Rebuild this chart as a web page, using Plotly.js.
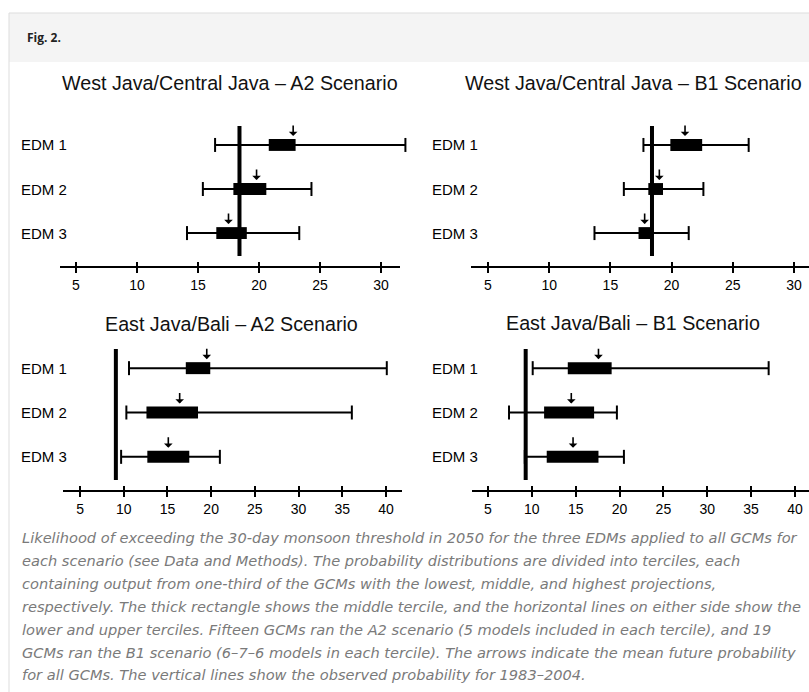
<!DOCTYPE html>
<html>
<head>
<meta charset="utf-8">
<script src="https://cdn.plot.ly/plotly-3.0.1.min.js"></script>
<style>
html,body{margin:0;padding:0;background:#fff;}
#chart{width:809px;height:692px;}
</style>
</head>
<body>
<div id="chart"></div>
<script>
// ---------- DATA ----------
const edmLabels = ['EDM 1', 'EDM 2', 'EDM 3'];
const panelTitles = [
  'West Java/Central Java – A2 Scenario',
  'West Java/Central Java – B1 Scenario',
  'East Java/Bali – A2 Scenario',
  'East Java/Bali – B1 Scenario'
];
const topTicks = [5, 10, 15, 20, 25, 30];
const bottomTicks = [5, 10, 15, 20, 25, 30, 35, 40];

// West Java/Central Java – A2
const wjA2Low   = [16.4, 15.4, 14.1];
const wjA2Q1    = [20.8, 17.9, 16.5];
const wjA2Q2    = [23.0, 20.6, 19.0];
const wjA2High  = [32.0, 24.3, 23.3];
const wjA2Mean  = [22.8, 19.8, 17.5];
const wjA2Obs   = 18.4;
// West Java/Central Java – B1
const wjB1Low   = [17.7, 16.1, 13.7];
const wjB1Q1    = [19.9, 18.1, 17.3];
const wjB1Q2    = [22.5, 19.3, 18.3];
const wjB1High  = [26.3, 22.6, 21.4];
const wjB1Mean  = [21.1, 19.0, 17.8];
const wjB1Obs   = 18.4;
// East Java/Bali – A2
const ejA2Low   = [10.6, 10.3, 9.7];
const ejA2Q1    = [17.1, 12.6, 12.7];
const ejA2Q2    = [19.9, 18.5, 17.5];
const ejA2High  = [40.1, 36.1, 21.0];
const ejA2Mean  = [19.5, 16.4, 15.1];
const ejA2Obs   = 9.1;
// East Java/Bali – B1
const ejB1Low   = [10.1, 7.4, 9.2];
const ejB1Q1    = [14.1, 11.4, 11.7];
const ejB1Q2    = [19.1, 17.1, 17.6];
const ejB1High  = [37.0, 19.7, 20.5];
const ejB1Mean  = [17.6, 14.5, 14.7];
const ejB1Obs   = 9.3;

const figLabel = 'Fig. 2.';
const captionLines = [
  'Likelihood of exceeding the 30-day monsoon threshold in 2050 for the three EDMs applied to all GCMs for',
  'each scenario (see Data and Methods). The probability distributions are divided into terciles, each',
  'containing output from one-third of the GCMs with the lowest, middle, and highest projections,',
  'respectively. The thick rectangle shows the middle tercile, and the horizontal lines on either side show the',
  'lower and upper terciles. Fifteen GCMs ran the A2 scenario (5 models included in each tercile), and 19',
  'GCMs ran the B1 scenario (6–7–6 models in each tercile). The arrows indicate the mean future probability',
  'for all GCMs. The vertical lines show the observed probability for 1983–2004.'
];

// ---------- BUILD ----------
const panelData = [
  {low: wjA2Low, q1: wjA2Q1, q2: wjA2Q2, high: wjA2High, mean: wjA2Mean, obs: wjA2Obs, ticks: topTicks},
  {low: wjB1Low, q1: wjB1Q1, q2: wjB1Q2, high: wjB1High, mean: wjB1Mean, obs: wjB1Obs, ticks: topTicks},
  {low: ejA2Low, q1: ejA2Q1, q2: ejA2Q2, high: ejA2High, mean: ejA2Mean, obs: ejA2Obs, ticks: bottomTicks},
  {low: ejB1Low, q1: ejB1Q1, q2: ejB1Q2, high: ejB1High, mean: ejB1Mean, obs: ejB1Obs, ticks: bottomTicks}
];

const W = 809, H = 692;
const px = v => v / W;
const py = v => 1 - v / H;

// layout geometry (pixels)
const geom = [
  {xd: [60, 412],  ax: [60, 400],  yd: [115, 267], xr: [3.69, 32.54], tx: 230, ty: 83,  lx: 19},
  {xd: [471, 809], ax: [471, 809], yd: [115, 267], xr: [3.61, 31.23], tx: 633, ty: 83,  lx: 430},
  {xd: [63, 402],  ax: [63, 402],  yd: [338, 491], xr: [3.05, 41.84], tx: 231, ty: 324, lx: 19},
  {xd: [472, 809], ax: [472, 809], yd: [338, 491], xr: [3.18, 41.60], tx: 633, ty: 323, lx: 430}
];
const yRange = [0.23, 3.68];
const boxWidth = 0.27;
const obsSpan = [0.48, 3.43];
const FONT = 'Liberation Sans, Arial, Helvetica, sans-serif';

const traces = [];
const annotations = [];
const shapes = [
  {type: 'rect', xref: 'paper', yref: 'paper', x0: px(9), x1: 1, y0: py(62), y1: py(13),
   fillcolor: '#f4f4f4', line: {width: 0}, layer: 'below'},
  {type: 'line', xref: 'paper', yref: 'paper', x0: px(9), x1: 1, y0: py(13), y1: py(13),
   line: {color: '#dddddd', width: 1}},
  {type: 'line', xref: 'paper', yref: 'paper', x0: px(9), x1: px(9), y0: py(13), y1: 0,
   line: {color: '#dddddd', width: 1}}
];
const layout = {
  width: W, height: H,
  margin: {l: 0, r: 0, t: 0, b: 0, pad: 0},
  paper_bgcolor: '#ffffff',
  plot_bgcolor: 'rgba(0,0,0,0)',
  showlegend: false,
  barmode: 'overlay',
  shapes: shapes,
  annotations: annotations
};

panelData.forEach((p, i) => {
  const g = geom[i];
  const n = i + 1;
  const xa = 'x' + n, ya = 'y' + n;
  const xo = 'x' + (n + 4);
  const ys = edmLabels.map((_, k) => 3 - k);

  // whiskers (lower/upper terciles)
  edmLabels.forEach((lab, k) => {
    traces.push({
      type: 'scatter', mode: 'lines+markers', xaxis: xa, yaxis: ya,
      x: [p.low[k], p.high[k]], y: [ys[k], ys[k]],
      line: {color: '#000', width: 2},
      marker: {symbol: 'line-ns', size: 10, color: '#000', line: {color: '#000', width: 2}},
      cliponaxis: false, hoverinfo: 'skip'
    });
  });
  // middle tercile boxes
  traces.push({
    type: 'bar', orientation: 'h', xaxis: xa, yaxis: ya,
    base: p.q1, x: p.q2.map((v, k) => v - p.q1[k]), y: ys,
    width: boxWidth, marker: {color: '#000', line: {width: 0}}, hoverinfo: 'skip'
  });
  // observed vertical line
  traces.push({
    type: 'scatter', mode: 'lines', xaxis: xa, yaxis: ya,
    x: [p.obs, p.obs], y: obsSpan,
    line: {color: '#000', width: 4}, hoverinfo: 'skip', cliponaxis: false
  });
  // invisible trace for overlay tick axis
  traces.push({
    type: 'scatter', mode: 'markers', xaxis: xo, yaxis: ya,
    x: [p.ticks[0]], y: [yRange[0]], marker: {opacity: 0}, hoverinfo: 'skip'
  });

  const baseX = {
    domain: [px(g.xd[0]), px(g.xd[1])], range: g.xr, anchor: ya,
    showgrid: false, zeroline: false, fixedrange: true, showline: false,
    tickmode: 'array', tickvals: p.ticks, ticktext: p.ticks.map(String)
  };
  layout['xaxis' + n] = Object.assign({}, baseX, {
    ticks: 'outside', ticklen: 5, tickwidth: 2, tickcolor: '#000',
    tickfont: {family: FONT, size: 14, color: '#000'}
  });
  layout['xaxis' + (n + 4)] = Object.assign({}, baseX, {
    overlaying: xa, showticklabels: false,
    ticks: 'inside', ticklen: 5, tickwidth: 2, tickcolor: '#000'
  });
  layout['yaxis' + n] = {
    domain: [py(g.yd[1]), py(g.yd[0])], range: yRange, anchor: xa,
    showgrid: false, zeroline: false, showline: false, showticklabels: false,
    ticks: '', fixedrange: true
  };
  // axis baseline
  shapes.push({type: 'line', xref: 'paper', yref: 'paper',
    x0: px(g.ax[0]), x1: px(g.ax[1]), y0: py(g.yd[1]), y1: py(g.yd[1]),
    line: {color: '#000', width: 2}});

  // panel title
  annotations.push({
    xref: 'paper', yref: 'paper', x: px(g.tx), y: py(g.ty), xanchor: 'center', yanchor: 'middle',
    text: panelTitles[i], showarrow: false, font: {family: FONT, size: 19.7, color: '#111'}
  });
  // EDM labels and mean arrows
  edmLabels.forEach((lab, k) => {
    annotations.push({
      xref: 'paper', yref: ya, x: px(g.lx), y: ys[k], xanchor: 'left', yanchor: 'middle',
      text: lab, showarrow: false, font: {family: FONT, size: 15, color: '#000'}
    });
    annotations.push({
      xref: xa, yref: ya, x: p.mean[k], y: ys[k], yshift: 9,
      text: '', showarrow: true, ax: 0, ay: -12,
      arrowhead: 1, arrowsize: 0.9, arrowwidth: 1.6, arrowcolor: '#000'
    });
  });
});

// header label
annotations.push({
  xref: 'paper', yref: 'paper', x: px(25), y: py(38), xanchor: 'left', yanchor: 'middle',
  text: '<b>' + figLabel + '</b>', showarrow: false,
  font: {family: 'Open Sans, Noto Sans, sans-serif', size: 12, color: '#222'}
});
// caption
const capY = [537, 560, 583, 606, 629, 652, 674];
captionLines.forEach((t, k) => {
  annotations.push({
    xref: 'paper', yref: 'paper', x: px(20), y: py(capY[k]), xanchor: 'left', yanchor: 'middle',
    text: t, showarrow: false,
    font: {family: 'DejaVu Sans', size: 14.6, color: '#7a7a7a', style: 'italic'}
  });
});

Plotly.newPlot('chart', traces, layout, {displayModeBar: false, staticPlot: true});
</script>
</body>
</html>
